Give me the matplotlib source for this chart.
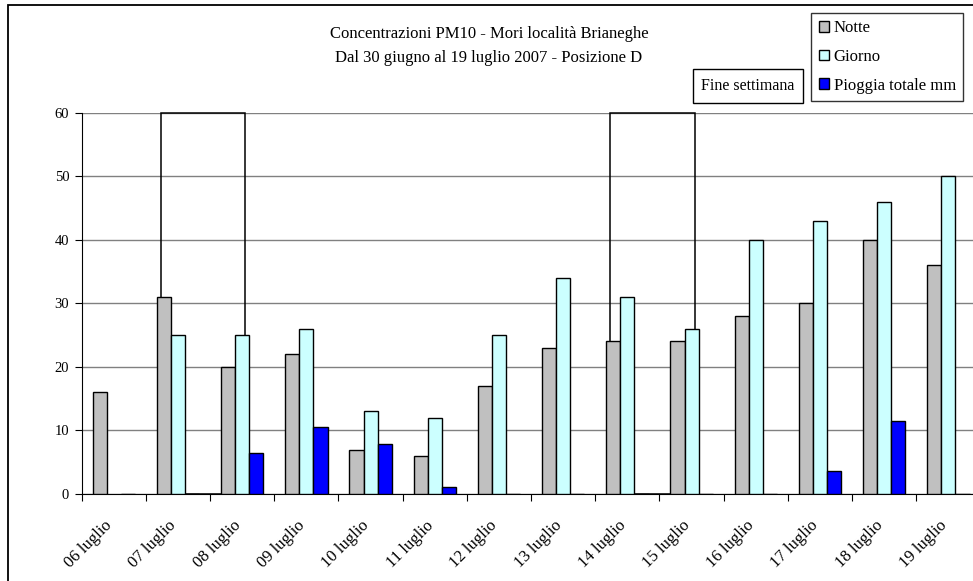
import matplotlib
matplotlib.use('Agg')
import matplotlib.pyplot as plt
import numpy as np
from matplotlib.patches import Rectangle, Patch

giorni = ['06 luglio', '07 luglio', '08 luglio', '09 luglio', '10 luglio', '11 luglio', '12 luglio',
          '13 luglio', '14 luglio', '15 luglio', '16 luglio', '17 luglio', '18 luglio', '19 luglio']
notte = [16, 31, 20, 22, 7, 6, 17, 23, 24, 24, 28, 30, 40, 36]
giorno = [np.nan, 25, 25, 26, 13, 12, 25, 34, 31, 26, 40, 43, 46, 50]
pioggia = [0, 0, 6.4, 10.6, 7.8, 1.1, 0, 0, 0, 0, 0, 3.6, 11.5, 0]
# fine settimana: 07-08 e 14-15 luglio
weekend = [(1, 2), (8, 9)]

plt.rcParams['font.family'] = ['Liberation Serif', 'DejaVu Serif']

W, H = 973, 581
fig = plt.figure(figsize=(W / 100, H / 100), dpi=100)
ax = fig.add_axes([81.7 / W, 87 / H, 898.8 / W, 381.3 / H])

x = np.arange(len(giorni))
bw = 0.22
ax.bar(x - bw, notte, bw, color='#C0C0C0', edgecolor='black', linewidth=1, zorder=3)
ax.bar(x, giorno, bw, color='#CCFFFF', edgecolor='black', linewidth=1, zorder=3)
ax.bar(x + bw, pioggia, bw, color='#0000FF', edgecolor='black', linewidth=1, zorder=3)

# riquadri fine settimana
for a, b in weekend:
    left = a - 1.5 * bw + 0.06
    right = b + 0.05
    ax.add_patch(Rectangle((left, 0), right - left, 60, fill=False, edgecolor='black',
                           linewidth=1.1, zorder=2, clip_on=False))

ax.set_xlim(-0.5, len(giorni) - 0.5)
ax.set_ylim(0, 60)
ax.set_yticks(np.arange(0, 61, 10))
ax.yaxis.grid(True, color='#808080', linewidth=1)
ax.set_axisbelow(True)
for s in ['top', 'right']:
    ax.spines[s].set_visible(False)
ax.spines['left'].set_color('black')
ax.spines['bottom'].set_color('black')
ax.tick_params(axis='y', direction='out', length=5, labelsize=10.5, pad=4)

ax.set_xticks(np.arange(-0.5, len(giorni) - 0.4, 1))
ax.set_xticklabels([])
ax.tick_params(axis='x', direction='out', length=5)
ax.set_xticks(x - 0.15, minor=True)
ax.set_xticklabels(giorni, minor=True, rotation=45, ha='right', rotation_mode='anchor', fontsize=12)
ax.tick_params(axis='x', which='minor', length=0, pad=17)

fig.text(489 / W, 1 - 34 / H, 'Concentrazioni PM10 - Mori località Brianeghe', ha='center', va='center', fontsize=12)
fig.text(489 / W, 1 - 58 / H, 'Dal 30 giugno al 19 luglio 2007 - Posizione D', ha='center', va='center', fontsize=12)

fig.text(748 / W, 1 - 86 / H, 'Fine settimana', ha='center', va='center', fontsize=11.5,
         bbox=dict(boxstyle='square,pad=0.55', facecolor='white', edgecolor='black', linewidth=1))

handles = [Patch(facecolor='#C0C0C0', edgecolor='black'),
           Patch(facecolor='#CCFFFF', edgecolor='black'),
           Patch(facecolor='#0000FF', edgecolor='black')]
leg = fig.legend(handles, ['Notte', 'Giorno', 'Pioggia totale mm'], loc='upper left',
                 bbox_to_anchor=(811 / W, 1 - 13 / H), fontsize=12, frameon=True, fancybox=False,
                 handlelength=0.6, handleheight=0.6, handletextpad=0.3, labelspacing=0.75,
                 borderpad=0.45, borderaxespad=0)
leg.get_frame().set_edgecolor('black')
leg.get_frame().set_linewidth(1)

# bordo grafico
fig.add_artist(Rectangle((8 / W, -0.1), 1.1, 1.1 - 5 / H, transform=fig.transFigure,
                         fill=False, edgecolor='black', linewidth=1.3))

fig.savefig('out.png', dpi=100)
